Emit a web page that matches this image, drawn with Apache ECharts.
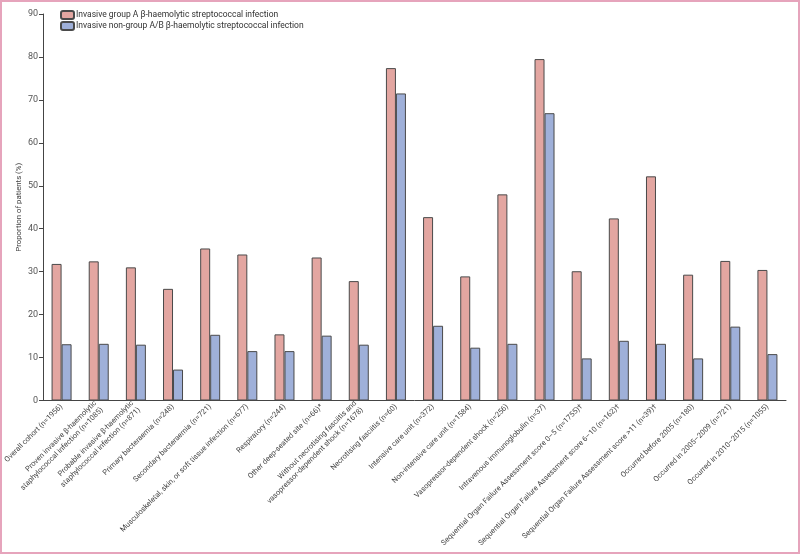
<!DOCTYPE html>
<html>
<head>
<meta charset="utf-8">
<script src="https://cdn.jsdelivr.net/npm/echarts@6/dist/echarts.min.js"></script>
<style>
html,body{margin:0;padding:0;background:#fff;}
#wrap{width:800px;height:554px;box-sizing:border-box;border:2px solid #e6a4bc;position:relative;overflow:hidden;}
#chart{position:absolute;left:-2px;top:-2px;width:800px;height:554px;}
</style>
</head>
<body>
<div id="wrap"><div id="chart"></div></div>
<script>
const categories = [
  'Overall cohort (n=1956)',
  'Proven invasive β-haemolytic\nstaphylococcal infection (n=1085)',
  'Probable invasive β-haemolytic\nstaphylococcal infection (n=871)',
  'Primary bacteraemia (n=248)',
  'Secondary bacteraemia (n=721)',
  'Musculoskeletal, skin, or soft tissue infection (n=677)',
  'Respiratory (n=244)',
  'Other deep-seated site (n=66)*',
  'Without necrotising fasciitis and\nvasopressor-dependent shock (n=1678)',
  'Necrotising fasciitis (n=60)',
  'Intensive care unit (n=372)',
  'Non-intensive care unit (n=1584)',
  'Vasopressor-dependent shock (n=256)',
  'Intravenous immunoglobulin (n=37)',
  'Sequential Organ Failure Assessment score 0–5 (n=1755)†',
  'Sequential Organ Failure Assessment score 6–10 (n=162)†',
  'Sequential Organ Failure Assessment score >11 (n=39)†',
  'Occurred before 2005 (n=180)',
  'Occurred in 2005–2009 (n=721)',
  'Occurred in 2010–2015 (n=1055)'
];
const groupA = [31.8, 32.4, 31.0, 26.0, 35.4, 34.0, 15.4, 33.3, 27.8, 77.4, 42.7, 28.9, 48.0, 79.5, 30.1, 42.4, 52.2, 29.3, 32.5, 30.4];
const nonGroupAB = [13.1, 13.2, 13.0, 7.2, 15.3, 11.5, 11.5, 15.1, 13.0, 71.5, 17.4, 12.3, 13.2, 66.9, 9.8, 13.9, 13.2, 9.8, 17.2, 10.8];
const seriesNames = ['Invasive group A β-haemolytic streptococcal infection', 'Invasive non-group A/B β-haemolytic streptococcal infection'];
const yTicks = [0, 10, 20, 30, 40, 50, 60, 70, 80, 90];

const FONT = "Roboto, 'Liberation Sans', sans-serif";
const chart = echarts.init(document.getElementById('chart'), null, {renderer: 'canvas'});
chart.setOption({
  animation: false,
  textStyle: {fontFamily: FONT},
  legend: {
    left: 55, top: 5, orient: 'vertical', itemWidth: 13, itemHeight: 8, itemGap: 1,
    textStyle: {fontFamily: FONT, fontSize: 8.5, color: '#333', padding: [0,0,0,-3]},
    data: seriesNames
  },
  grid: {left: 43, right: 14, top: 14, bottom: 153.5, containLabel: false, outerBoundsMode: 'none'},
  xAxis: {
    type: 'category', data: categories,
    axisLine: {lineStyle: {color: '#444', width: 1}},
    axisTick: {length: 5, lineStyle: {color: '#444'}},
    axisLabel: {rotate: 45, interval: 0, fontFamily: FONT, fontSize: 7.5, color: '#444', margin: 5, lineHeight: 9.5,
      padding: [11, 0, 0, 0]}
  },
  yAxis: {
    type: 'value', min: 0, max: 90, interval: 10,
    name: 'Proportion of patients (%)', nameLocation: 'middle', nameGap: 20, nameMoveOverlap: false,
    nameTextStyle: {fontFamily: FONT, fontSize: 7.8, color: '#444'},
    axisLine: {show: true, lineStyle: {color: '#444'}},
    axisTick: {show: true, length: 4, lineStyle: {color: '#444'}},
    axisLabel: {fontFamily: FONT, fontSize: 9, color: '#555', margin: 5,
      formatter: v => yTicks.includes(v) ? String(v) : ''},
    splitLine: {show: false}
  },
  series: [
    {name: seriesNames[0], type: 'bar', data: groupA, barWidth: 10, barGap: '0%',
     itemStyle: {color: '#e3a6a1', borderColor: '#4a4a4a', borderWidth: 1}},
    {name: seriesNames[1], type: 'bar', data: nonGroupAB, barWidth: 10, barGap: '0%',
     itemStyle: {color: '#9fb0d9', borderColor: '#4a4a4a', borderWidth: 1}}
  ]
});
</script>
</body>
</html>
